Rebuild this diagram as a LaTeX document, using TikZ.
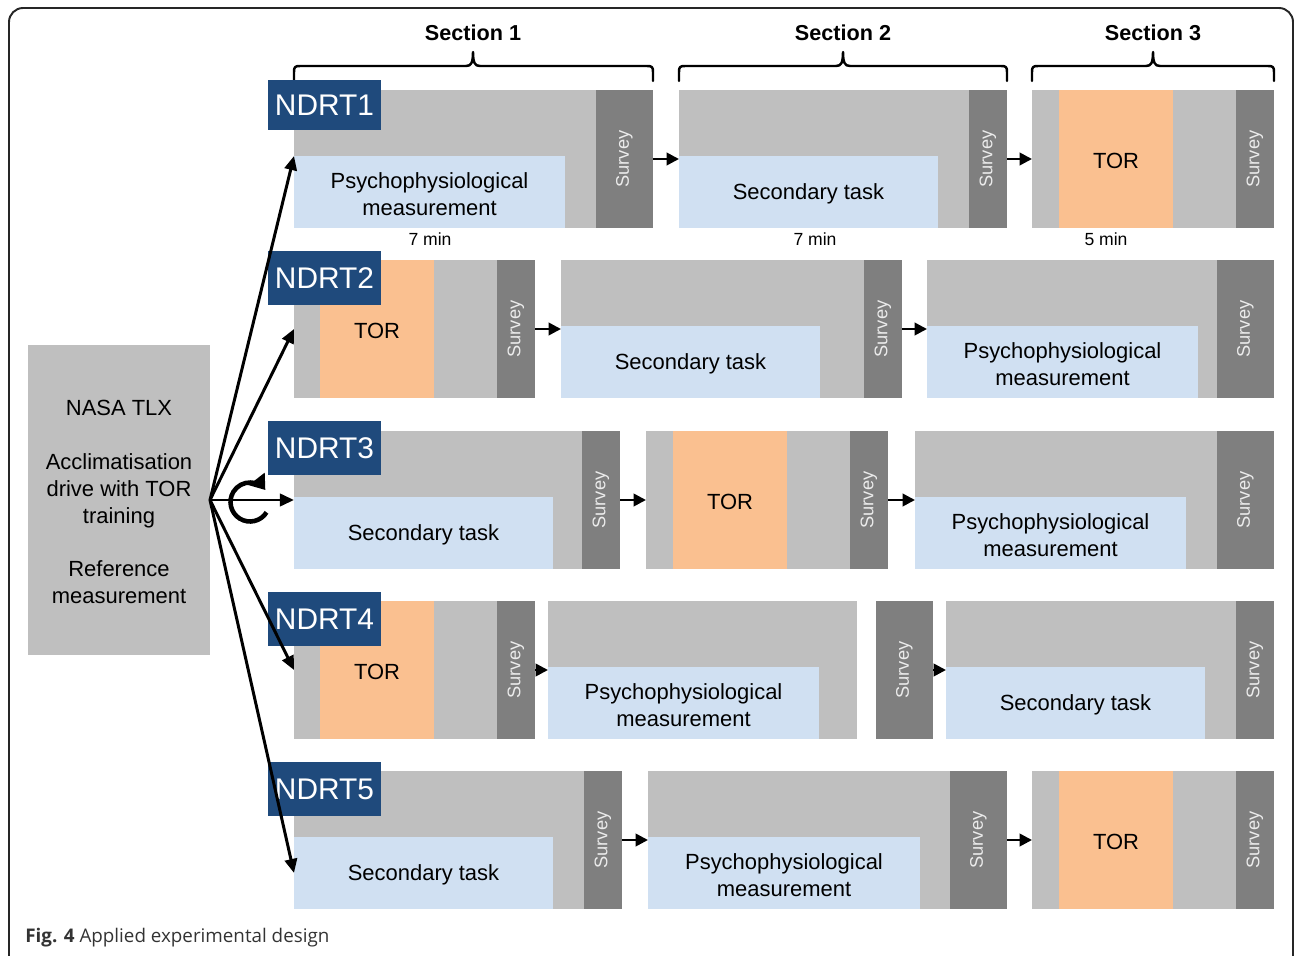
\documentclass[tikz,border=0pt]{standalone}
\usepackage{fontspec}
\setmainfont{Liberation Sans}
\newfontfamily\capfont{Open Sans}
\usetikzlibrary{arrows.meta, fit}

\definecolor{boxgray}{HTML}{BFBFBF}
\definecolor{survgray}{HTML}{7F7F7F}
\definecolor{taskblue}{HTML}{D0E0F2}
\definecolor{torange}{HTML}{FAC090}
\definecolor{ndrtblue}{HTML}{1F4A7C}

\tikzset{
  base/.style={inner sep=0pt, outer sep=0pt, draw=none},
  gbox/.style={base, fill=boxgray},
  sbox/.style={base, fill=survgray},
  tbox/.style={base, fill=taskblue},
  obox/.style={base, fill=torange},
  ndrt/.style={base, fill=ndrtblue},
  txt/.style={inner sep=0pt, yshift=-1.2pt, align=center, font=\fontsize{12.5}{15.3}\selectfont},
  ntxt/.style={inner sep=0pt, text=white, font=\fontsize{17}{20}\selectfont},
  survtxt/.style={rotate=90, inner sep=0pt, text=white!92!black, font=\fontsize{10.4}{12}\selectfont},
  mintxt/.style={inner sep=0pt, font=\fontsize{10}{12}\selectfont},
  sectxt/.style={inner sep=0pt, font=\bfseries\fontsize{12.3}{14}\selectfont},
  flow/.style={line width=1.5pt, -{Triangle[length=7pt,width=7pt]}},
  fan/.style={line width=1.7pt, -{Triangle[length=8pt,width=7pt]}},
  brace/.style={line width=1.4pt, line cap=round, line join=round},
}

\begin{document}
\begin{tikzpicture}[x=0.02cm, y=-0.02cm]
\useasboundingbox (0,0) rectangle (1295,956);
\draw[line width=1.1pt, draw=black!85, rounded corners=8pt] (9,8) rectangle (1293,975);

% section headers
\foreach \l/\r/\m/\n in {294/653/473/1, 679/1007/843/2, 1032/1274/1153/3} {
  \draw[brace] (\l,81) -- (\l,72) .. controls (\l,67) and (\l+1,66) .. (\l+6,66)
    -- (\m-7,66) .. controls (\m-2,66) and (\m,63) .. (\m,52)
    .. controls (\m,63) and (\m+2,66) .. (\m+7,66) -- (\r-6,66)
    .. controls (\r-1,66) and (\r,67) .. (\r,72) -- (\r,81);
  \node[sectxt] (sec\n) at (\m,33) {Section \n};
}

% left box
\node[gbox, fit={(28,345)(210,655)}, label={[txt]center:{NASA TLX\\[15.3pt]Acclimatisation\\drive with TOR\\training\\[15.3pt]Reference\\measurement}}] (lbox) {};

% NDRT1
\node[gbox, fit={(294,90)(653,228)}] (r1a) {};
\node[sbox, fit={(596,90)(653,228)}] (r1as) {};
\node[tbox, fit={(294,156)(565,228)}, label={[txt]center:{Psychophysiological\\measurement}}] (r1ap) {};
\node[gbox, fit={(679,90)(1007,228)}] (r1b) {};
\node[sbox, fit={(969,90)(1007,228)}] (r1bs) {};
\node[tbox, fit={(679,156)(938,228)}, label={[txt]center:Secondary task}] (r1bt) {};
\node[gbox, fit={(1032,90)(1274,228)}] (r1c) {};
\node[obox, fit={(1059,90)(1173,228)}, label={[txt]center:TOR}] (r1co) {};
\node[sbox, fit={(1236,90)(1274,228)}] (r1cs) {};
\node[mintxt] (d1) at (430,239) {7 min};
\node[mintxt] (d2) at (815,239) {7 min};
\node[mintxt] (d3) at (1106,239) {5 min};

% NDRT2
\node[gbox, fit={(294,260)(535,398)}] (r2a) {};
\node[obox, fit={(320,260)(434,398)}, label={[txt]center:TOR}] (r2ao) {};
\node[sbox, fit={(497,260)(535,398)}] (r2as) {};
\node[gbox, fit={(561,260)(902,398)}] (r2b) {};
\node[sbox, fit={(864,260)(902,398)}] (r2bs) {};
\node[tbox, fit={(561,326)(820,398)}, label={[txt]center:Secondary task}] (r2bt) {};
\node[gbox, fit={(927,260)(1274,398)}] (r2c) {};
\node[sbox, fit={(1217,260)(1274,398)}] (r2cs) {};
\node[tbox, fit={(927,326)(1198,398)}, label={[txt]center:{Psychophysiological\\measurement}}] (r2cp) {};

% NDRT3
\node[gbox, fit={(294,431)(620,569)}] (r3a) {};
\node[sbox, fit={(582,431)(620,569)}] (r3as) {};
\node[tbox, fit={(294,497)(553,569)}, label={[txt]center:Secondary task}] (r3at) {};
\node[gbox, fit={(646,431)(888,569)}] (r3b) {};
\node[obox, fit={(673,431)(787,569)}, label={[txt]center:TOR}] (r3bo) {};
\node[sbox, fit={(850,431)(888,569)}] (r3bs) {};
\node[gbox, fit={(915,431)(1274,569)}] (r3c) {};
\node[sbox, fit={(1217,431)(1274,569)}] (r3cs) {};
\node[tbox, fit={(915,497)(1186,569)}, label={[txt]center:{Psychophysiological\\measurement}}] (r3cp) {};

% NDRT4
\node[gbox, fit={(294,601)(535,739)}] (r4a) {};
\node[obox, fit={(320,601)(434,739)}, label={[txt]center:TOR}] (r4ao) {};
\node[sbox, fit={(497,601)(535,739)}] (r4as) {};
\node[gbox, fit={(548,601)(857,739)}] (r4b) {};
\node[tbox, fit={(548,667)(819,739)}, label={[txt]center:{Psychophysiological\\measurement}}] (r4bp) {};
\node[sbox, fit={(876,601)(933,739)}] (r4s) {};
\node[gbox, fit={(946,601)(1274,739)}] (r4c) {};
\node[sbox, fit={(1236,601)(1274,739)}] (r4cs) {};
\node[tbox, fit={(946,667)(1205,739)}, label={[txt]center:Secondary task}] (r4ct) {};

% NDRT5
\node[gbox, fit={(294,771)(622,909)}] (r5a) {};
\node[sbox, fit={(584,771)(622,909)}] (r5as) {};
\node[tbox, fit={(294,837)(553,909)}, label={[txt]center:Secondary task}] (r5at) {};
\node[gbox, fit={(648,771)(1007,909)}] (r5b) {};
\node[sbox, fit={(950,771)(1007,909)}] (r5bs) {};
\node[tbox, fit={(648,837)(920,909)}, label={[txt]center:{Psychophysiological\\measurement}}] (r5bp) {};
\node[gbox, fit={(1032,771)(1274,909)}] (r5c) {};
\node[obox, fit={(1059,771)(1173,909)}, label={[txt]center:TOR}] (r5co) {};
\node[sbox, fit={(1236,771)(1274,909)}] (r5cs) {};

\foreach \s in {r1as,r1bs,r1cs,r2as,r2bs,r2cs,r3as,r3bs,r3cs,r4as,r4s,r4cs,r5as,r5bs,r5cs}
  \node[survtxt] (\s-t) at (\s.center) {Survey};

% row labels
\node[ndrt, fit={(268,80)(381,130)}, label={[ntxt]center:NDRT1}] (n1) {};
\node[ndrt, fit={(268,251)(381,305)}, label={[ntxt]center:NDRT2}] (n2) {};
\node[ndrt, fit={(268,421)(381,475)}, label={[ntxt]center:NDRT3}] (n3) {};
\node[ndrt, fit={(268,592)(381,646)}, label={[ntxt]center:NDRT4}] (n4) {};
\node[ndrt, fit={(268,762)(381,816)}, label={[ntxt]center:NDRT5}] (n5) {};

% flow between sections
\draw[flow] (r1as.east) -- (r1b.west);
\draw[flow] (r1bs.east) -- (r1c.west);
\draw[flow] (r2as.east) -- (r2b.west);
\draw[flow] (r2bs.east) -- (r2c.west);
\draw[flow] (r3as.east) -- (r3b.west);
\draw[flow] (r3bs.east) -- (r3c.west);
\draw[flow] (r4as.east) -- (r4b.west);
\draw[flow] (r4s.east) -- (r4c.west);
\draw[flow] (r5as.east) -- (r5b.west);
\draw[flow] (r5bs.east) -- (r5c.west);

% assignment to orders
\draw[fan] (lbox.east) -- (r1ap.north west);
\draw[fan] (lbox.east) -- (r2a.west);
\draw[fan] (lbox.east) -- (r3a.west);
\draw[fan] (lbox.east) -- (r4a.west);
\draw[fan] (lbox.east) -- (r5at.west);
\coordinate (loop) at (250,502);
\draw[line width=2.6pt, -{Triangle[length=8pt,width=11pt]}] (loop) ++(-32:0.39cm)
  arc[start angle=-32, end angle=-322, radius=0.39cm];

% caption
\node[anchor=base west, inner sep=0pt, text=black!80, font=\capfont\fontsize{10.7}{13}\selectfont] (cap) at (25,942) {\textbf{Fig. 4} Applied experimental design};
\end{tikzpicture}
\end{document}
